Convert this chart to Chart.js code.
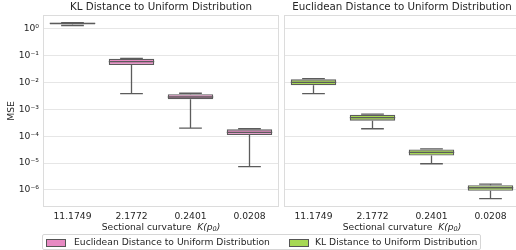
<!DOCTYPE html>
<html>
<head>
<meta charset="utf-8">
<script src="https://cdn.jsdelivr.net/npm/chart.js@4/dist/chart.umd.min.js"></script>
<style>
  html, body { margin: 0; padding: 0; background: #fff; }
  #wrap { position: relative; width: 516px; height: 250px; overflow: hidden; }
  #left { position: absolute; left: 0; top: 0; }
  #right { position: absolute; left: 280px; top: 0; }
  #legend {
    position: absolute; left: 42px; top: 234px; width: 437px; height: 14px;
    border: 1px solid #d6d6d6; border-radius: 2px; box-sizing: content-box;
    font: 9.2px "DejaVu Sans", sans-serif; color: #262626;
  }
  #legend .item { position: absolute; top: 0; height: 14px; line-height: 14px; white-space: nowrap; }
  #legend .patch { position: absolute; top: 3.5px; width: 18px; height: 6px; border: 1px solid #555; }
  #legend .label { position: absolute; top: 0; }
</style>
</head>
<body>
<div id="wrap">
  <canvas id="left" width="279" height="250"></canvas>
  <canvas id="right" width="240" height="250"></canvas>
  <div id="legend">
    <div class="item" style="left:3px"><span class="patch" style="left:0;background:#e78ac3"></span><span class="label" style="left:28px">Euclidean Distance to Uniform Distribution</span></div>
    <div class="item" style="left:246px"><span class="patch" style="left:0;background:#a6d854"></span><span class="label" style="left:26px">KL Distance to Uniform Distribution</span></div>
  </div>
</div>
<script>
var categories = ['11.1749', '2.1772', '0.2401', '0.0208'];
var titles = ['KL Distance to Uniform Distribution', 'Euclidean Distance to Uniform Distribution'];
var yTicks = [1e0, 1e-1, 1e-2, 1e-3, 1e-4, 1e-5, 1e-6];

// left panel (pink)
var pinkLow  = [1.34, 0.0039, 0.0002, 7.3e-6];
var pinkQ1   = [1.45, 0.045, 0.0024, 1.1e-4];
var pinkMed  = [1.6, 0.06, 0.0029, 1.4e-4];
var pinkQ3   = [1.68, 0.078, 0.0037, 1.8e-4];
var pinkHigh = [1.7, 0.08, 0.004, 1.9e-4];

// right panel (green)
var greenLow  = [0.0039, 1.9e-4, 9.4e-6, 4.7e-7];
var greenQ1   = [0.0079, 3.8e-4, 1.9e-5, 9.3e-7];
var greenMed  = [0.0102, 4.9e-4, 2.5e-5, 1.2e-6];
var greenQ3   = [0.0132, 6.3e-4, 3.2e-5, 1.5e-6];
var greenHigh = [0.014, 6.7e-4, 3.4e-5, 1.65e-6];

var sup = {'0':'\u2070','1':'\u00b9','2':'\u00b2','3':'\u00b3','4':'\u2074','5':'\u2075','6':'\u2076','7':'\u2077','8':'\u2078','9':'\u2079','-':'\u207b'};
function powLabel(v) {
    var e = String(Math.round(Math.log10(v)));
    return '10' + e.split('').map(function(c) { return sup[c]; }).join('');
}

var FONT = '"DejaVu Sans", sans-serif';
var TEXT = '#262626';
var EDGE = '#5c5c5c';

var boxPlugin = {
    id: 'boxes',
    beforeDatasetsDraw: function(chart) {
        var a = chart.chartArea, ctx = chart.ctx;
        ctx.save();
        ctx.strokeStyle = '#dcdcdc';
        ctx.lineWidth = 1;
        ctx.strokeRect(a.left + 0.5, a.top + 0.5, a.right - a.left - 1, a.bottom - a.top - 1);
        ctx.restore();
    },
    afterDatasetsDraw: function(chart) {
        var ctx = chart.ctx, y = chart.scales.y;
        var ds = chart.data.datasets[0];
        var meta = chart.getDatasetMeta(0);
        ctx.save();
        ctx.strokeStyle = EDGE;
        ctx.lineWidth = 1.3;
        meta.data.forEach(function(bar, i) {
            var x = bar.x, half = bar.width / 2;
            var yLow = y.getPixelForValue(ds.lows[i]);
            var yHigh = y.getPixelForValue(ds.highs[i]);
            var yQ1 = y.getPixelForValue(ds.data[i][0]);
            var yQ3 = y.getPixelForValue(ds.data[i][1]);
            var yMed = y.getPixelForValue(ds.meds[i]);
            ctx.beginPath();
            ctx.moveTo(x, yQ1); ctx.lineTo(x, yLow);
            ctx.moveTo(x - half / 2, yLow); ctx.lineTo(x + half / 2, yLow);
            ctx.moveTo(x, yQ3); ctx.lineTo(x, yHigh);
            ctx.moveTo(x - half / 2, yHigh); ctx.lineTo(x + half / 2, yHigh);
            ctx.moveTo(x - half, yMed); ctx.lineTo(x + half, yMed);
            ctx.stroke();
        });
        ctx.restore();
    },
    afterDraw: function(chart) {
        var a = chart.chartArea, ctx = chart.ctx;
        var cx = (a.left + a.right) / 2;
        ctx.save();
        ctx.fillStyle = TEXT;
        ctx.textBaseline = 'middle';
        // panel title
        ctx.textAlign = 'center';
        ctx.font = '10.3px ' + FONT;
        ctx.fillText(chart.options.plugins.panelTitle, cx, 7.5);
        // x axis title with italic K(p0)
        var yT = 227.5;
        var parts = [
            ['Sectional curvature  ', '9.2px ' + FONT, 0],
            ['K(p', 'italic 9.2px ' + FONT, 0],
            ['0', 'italic 6.5px ' + FONT, 2],
            [')', 'italic 9.2px ' + FONT, 0]
        ];
        var total = 0;
        parts.forEach(function(p) { ctx.font = p[1]; total += ctx.measureText(p[0]).width; });
        var xs = cx - total / 2;
        ctx.textAlign = 'left';
        parts.forEach(function(p) {
            ctx.font = p[1];
            ctx.fillText(p[0], xs, yT + p[2]);
            xs += ctx.measureText(p[0]).width;
        });
        // y axis title
        if (chart.options.plugins.showYTitle) {
            ctx.translate(12, (a.top + a.bottom) / 2);
            ctx.rotate(-Math.PI / 2);
            ctx.textAlign = 'center';
            ctx.font = '9.2px ' + FONT;
            ctx.fillText('MSE', 0, 0);
        }
        ctx.restore();
    }
};

function makePanel(id, title, color, q1, q3, med, low, high, showY) {
    var boxes = q1.map(function(v, i) { return [v, q3[i]]; });
    return new Chart(document.getElementById(id), {
        type: 'bar',
        data: {
            labels: categories,
            datasets: [{
                data: boxes,
                meds: med,
                lows: low,
                highs: high,
                backgroundColor: color,
                borderColor: EDGE,
                borderWidth: 1.3,
                borderSkipped: false,
                barPercentage: 0.77,
                categoryPercentage: 1.0
            }]
        },
        options: {
            responsive: false,
            animation: false,
            layout: { padding: { top: 15, right: 0, bottom: 23, left: 0 } },
            plugins: {
                legend: { display: false },
                tooltip: { enabled: false },
                panelTitle: title,
                showYTitle: showY
            },
            scales: {
                x: {
                    grid: { display: false, drawTicks: false },
                    border: { display: false },
                    ticks: { color: TEXT, font: { family: FONT, size: 9.2 }, padding: 4, maxRotation: 0 },
                    afterFit: function(s) { s.height = 20; }
                },
                y: {
                    type: 'logarithmic',
                    min: 2.3e-7,
                    max: 3.3,
                    grid: { color: '#e6e6e6', lineWidth: 1, drawTicks: false },
                    border: { display: false },
                    afterBuildTicks: function(s) { s.ticks = yTicks.map(function(v) { return { value: v, major: true }; }); },
                    ticks: {
                        display: showY,
                        color: TEXT,
                        font: { family: FONT, size: 9.2 },
                        padding: 4,
                        callback: function(v) { return powLabel(v); }
                    },
                    afterFit: function(s) { s.width = showY ? 43 : 4; }
                }
            }
        },
        plugins: [boxPlugin]
    });
}

window.onload = function() {
    makePanel('left', titles[0], '#e78ac3', pinkQ1, pinkQ3, pinkMed, pinkLow, pinkHigh, true);
    makePanel('right', titles[1], '#a6d854', greenQ1, greenQ3, greenMed, greenLow, greenHigh, false);
};
</script>
</body>
</html>
